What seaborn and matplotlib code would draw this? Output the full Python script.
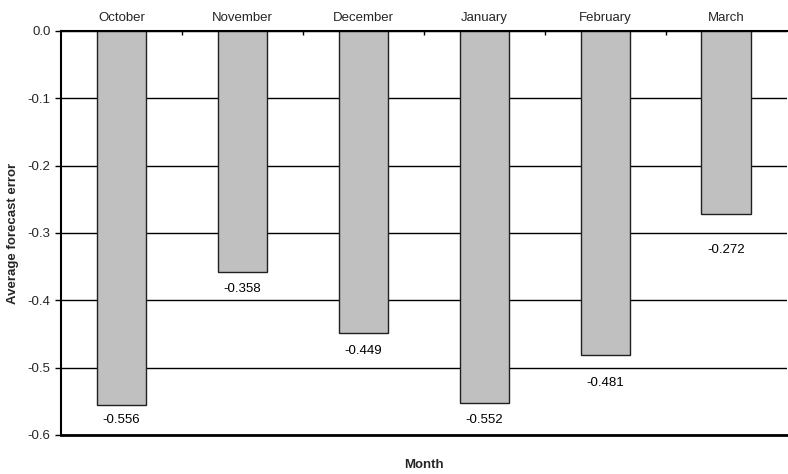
import matplotlib
matplotlib.use("Agg")
import matplotlib.pyplot as plt
import seaborn as sns
import pandas as pd

# values
months = ['October', 'November', 'December', 'January', 'February', 'March']
errors = [-0.556, -0.358, -0.449, -0.552, -0.481, -0.272]

# label gaps below the bar ends (pixels), as in the original
label_pad = [9, 11, 12, 11, 22, 30]

df = pd.DataFrame({'Month': months, 'Error': errors})

sns.set_style('white')
plt.rcParams['font.family'] = ['Liberation Sans', 'DejaVu Sans']

fig = plt.figure(figsize=(7.88, 4.74), dpi=100)
ax = fig.add_axes([0.0774, 0.0823, 0.921, 0.8523])

sns.barplot(data=df, x='Month', y='Error', color='#c0c0c0', saturation=1,
            edgecolor='#202020', linewidth=1, width=0.41, ax=ax)

bars = ax.containers[0]
for bar, val, pad in zip(bars, errors, label_pad):
    end = bar.get_y() + bar.get_height()
    ax.annotate('%.3f' % val, (bar.get_x() + bar.get_width() / 2, end),
                xytext=(0, -pad * 0.72), textcoords='offset points',
                ha='center', va='top', fontsize=9.5, color='black')

ax.set_ylim(-0.6, 0)
ax.set_xlim(-0.5, 5.5)
ax.set_yticks([0, -0.1, -0.2, -0.3, -0.4, -0.5, -0.6])
ax.set_yticklabels(['0.0', '-0.1', '-0.2', '-0.3', '-0.4', '-0.5', '-0.6'])
ax.set_axisbelow(True)
ax.yaxis.grid(True, color='black', linewidth=1)

ax.xaxis.tick_top()
ax.tick_params(axis='x', which='major', length=0, labelsize=9.5, pad=5)
ax.set_xticks([0.5, 1.5, 2.5, 3.5, 4.5], minor=True)
ax.tick_params(axis='x', which='minor', direction='in', length=3, width=1, color='black', top=True, bottom=False)
ax.tick_params(axis='y', direction='out', length=4, width=1, color='black', left=True, labelsize=9.5)

for s in ['top', 'left']:
    ax.spines[s].set_color('black')
    ax.spines[s].set_linewidth(1.5)
ax.spines['bottom'].set_color('black')
ax.spines['bottom'].set_linewidth(2)
ax.spines['right'].set_visible(False)

ax.set_ylabel('Average forecast error', fontsize=9.5, fontweight='bold', labelpad=6)
ax.xaxis.set_label_position('bottom')
ax.set_xlabel('Month', fontsize=9.5, fontweight='bold', labelpad=17)

fig.savefig('out.png', dpi=100)
